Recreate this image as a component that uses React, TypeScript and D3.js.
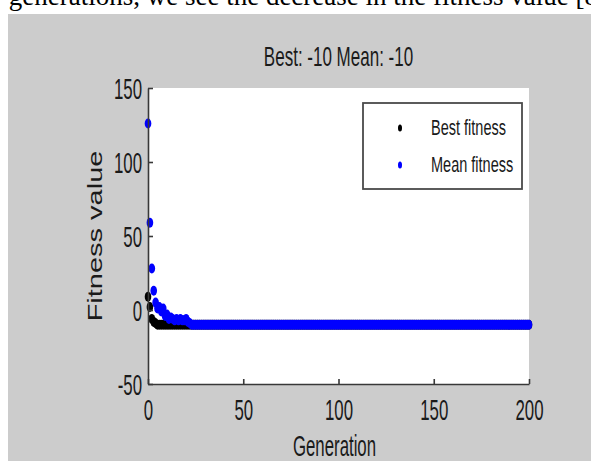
import React, { useEffect, useRef } from "react";
import * as d3 from "d3";

// values, one per generation (0..200)
const bestFitness = [
  9, 2, -6, -8, -9,
  -10, -10, -10, -10, -10, -10, -10, -10, -10, -10, -10, -10, -10, -10, -10, -10, -10, -10, -10, -10,
  -10, -10, -10, -10, -10, -10, -10, -10, -10, -10, -10, -10, -10, -10, -10, -10, -10, -10, -10, -10,
  -10, -10, -10, -10, -10, -10, -10, -10, -10, -10, -10, -10, -10, -10, -10, -10, -10, -10, -10, -10,
  -10, -10, -10, -10, -10, -10, -10, -10, -10, -10, -10, -10, -10, -10, -10, -10, -10, -10, -10, -10,
  -10, -10, -10, -10, -10, -10, -10, -10, -10, -10, -10, -10, -10, -10, -10, -10, -10, -10, -10, -10,
  -10, -10, -10, -10, -10, -10, -10, -10, -10, -10, -10, -10, -10, -10, -10, -10, -10, -10, -10, -10,
  -10, -10, -10, -10, -10, -10, -10, -10, -10, -10, -10, -10, -10, -10, -10, -10, -10, -10, -10, -10,
  -10, -10, -10, -10, -10, -10, -10, -10, -10, -10, -10, -10, -10, -10, -10, -10, -10, -10, -10, -10,
  -10, -10, -10, -10, -10, -10, -10, -10, -10, -10, -10, -10, -10, -10, -10, -10, -10, -10, -10, -10,
  -10, -10, -10, -10, -10, -10, -10, -10, -10, -10, -10, -10, -10, -10, -10, -10,
];

const meanFitness = [
  126, 59, 28, 13, 5, 1, 2, -1, 1, -4, -3, -6, -5, -6, -7, -6, -7, -6, -7, -7, -6, -8, -9,
  -10, -10, -10, -10, -10, -10, -10, -10, -10, -10, -10, -10, -10, -10, -10, -10, -10, -10, -10, -10,
  -10, -10, -10, -10, -10, -10, -10, -10, -10, -10, -10, -10, -10, -10, -10, -10, -10, -10, -10, -10,
  -10, -10, -10, -10, -10, -10, -10, -10, -10, -10, -10, -10, -10, -10, -10, -10, -10, -10, -10, -10,
  -10, -10, -10, -10, -10, -10, -10, -10, -10, -10, -10, -10, -10, -10, -10, -10, -10, -10, -10, -10,
  -10, -10, -10, -10, -10, -10, -10, -10, -10, -10, -10, -10, -10, -10, -10, -10, -10, -10, -10, -10,
  -10, -10, -10, -10, -10, -10, -10, -10, -10, -10, -10, -10, -10, -10, -10, -10, -10, -10, -10, -10,
  -10, -10, -10, -10, -10, -10, -10, -10, -10, -10, -10, -10, -10, -10, -10, -10, -10, -10, -10, -10,
  -10, -10, -10, -10, -10, -10, -10, -10, -10, -10, -10, -10, -10, -10, -10, -10, -10, -10, -10, -10,
  -10, -10, -10, -10, -10, -10, -10, -10, -10, -10, -10, -10, -10, -10, -10, -10, -10, -10,
];

const xTicks = [0, 50, 100, 150, 200];
const yTicks = [-50, 0, 50, 100, 150];
const legendLabels = ["Best fitness", "Mean fitness"];
const titleText = "Best: -10 Mean: -10";
const xLabel = "Generation";
const yLabel = "Fitness value";
const pageText = "r generations, we see the decrease in the fitness value [8";

const W = 591;
const H = 461;
const FONT = "'Liberation Sans', Arial, sans-serif";
const INK = "#1a1a1a";
const AXIS = "#383838";

export default function App() {
  const svgRef = useRef<SVGSVGElement>(null);

  useEffect(() => {
    const svg = d3.select(svgRef.current);
    svg.selectAll("*").remove();

    // bit of the paper text cut off above the figure
    svg
      .append("text")
      .attr("x", -7)
      .attr("y", 5)
      .attr("font-family", "'Liberation Serif', 'Times New Roman', serif")
      .attr("font-size", 27)
      .attr("fill", "#000")
      .text(pageText);

    // figure background
    svg.append("rect").attr("x", 8).attr("y", 14).attr("width", W - 8).attr("height", H - 14).attr("fill", "#cccccc");

    const x = d3.scaleLinear().domain([0, 200]).range([148, 529]);
    const y = d3.scaleLinear().domain([-50, 150]).range([384, 88]);

    // plot area
    svg
      .append("rect")
      .attr("x", x(0))
      .attr("y", y(150))
      .attr("width", x(200) - x(0))
      .attr("height", y(-50) - y(150))
      .attr("fill", "#fff");

    // dots: best first, mean on top
    const series = [
      { values: bestFitness, color: "#000000" },
      { values: meanFitness, color: "#0000ff" },
    ];
    series.forEach((s) => {
      svg
        .append("g")
        .selectAll("ellipse")
        .data(s.values)
        .enter()
        .append("ellipse")
        .attr("cx", (d, i) => x(i))
        .attr("cy", (d) => y(d))
        .attr("rx", 3.3)
        .attr("ry", 5)
        .attr("fill", s.color);
    });

    // X axis (ticks pointing inward)
    const gx = svg
      .append("g")
      .attr("transform", `translate(0,${y(-50)})`)
      .attr("color", AXIS)
      .call(d3.axisBottom(x).tickValues(xTicks).tickSizeInner(-5).tickSizeOuter(0).tickFormat((d) => String(d)));
    gx.selectAll("path, line").attr("stroke-width", 1.6);
    gx.selectAll("text")
      .attr("y", 0)
      .attr("dy", 0)
      .attr("transform", "translate(0,36) scale(0.58,1)")
      .attr("font-size", 29)
      .attr("font-family", FONT)
      .attr("fill", INK);

    // Y axis
    const gy = svg
      .append("g")
      .attr("transform", `translate(${x(0)},0)`)
      .attr("color", AXIS)
      .call(d3.axisLeft(y).tickValues(yTicks).tickSizeInner(-5).tickSizeOuter(0).tickFormat((d) => String(d)));
    gy.selectAll("path, line").attr("stroke-width", 1.6);
    gy.selectAll("text")
      .attr("x", 0)
      .attr("dy", "0.36em")
      .attr("transform", "translate(-6,0) scale(0.58,1)")
      .attr("font-size", 29)
      .attr("font-family", FONT)
      .attr("fill", INK);

    // title
    svg
      .append("text")
      .attr("transform", `translate(${(x(0) + x(200)) / 2},66) scale(0.63,1)`)
      .attr("text-anchor", "middle")
      .attr("font-family", FONT)
      .attr("font-size", 27)
      .attr("fill", INK)
      .text(titleText);

    // axis labels
    svg
      .append("text")
      .attr("transform", `translate(334.5,456) scale(0.56,1)`)
      .attr("text-anchor", "middle")
      .attr("font-family", FONT)
      .attr("font-size", 30)
      .attr("fill", INK)
      .text(xLabel);

    svg
      .append("text")
      .attr("transform", `translate(102,${(y(150) + y(-50)) / 2}) rotate(-90) scale(1,0.7)`)
      .attr("text-anchor", "middle")
      .attr("font-family", FONT)
      .attr("font-size", 29)
      .attr("fill", INK)
      .text(yLabel);

    // legend
    const legend = svg.append("g").attr("transform", "translate(363,103)");
    legend
      .append("rect")
      .attr("width", 159)
      .attr("height", 86)
      .attr("fill", "#fff")
      .attr("stroke", "#4a4a4a")
      .attr("stroke-width", 1.8);
    legendLabels.forEach((label, i) => {
      const cy = 25 + i * 37;
      legend
        .append("ellipse")
        .attr("cx", 37)
        .attr("cy", cy)
        .attr("rx", 2)
        .attr("ry", 3.5)
        .attr("fill", series[i].color);
      legend
        .append("text")
        .attr("transform", `translate(68,${cy + 7}) scale(0.66,1)`)
        .attr("font-family", FONT)
        .attr("font-size", 22)
        .attr("fill", INK)
        .text(label);
    });
  }, []);

  return <svg ref={svgRef} width={W} height={H} style={{ position: "absolute", left: 0, top: 0 }} />;
}
